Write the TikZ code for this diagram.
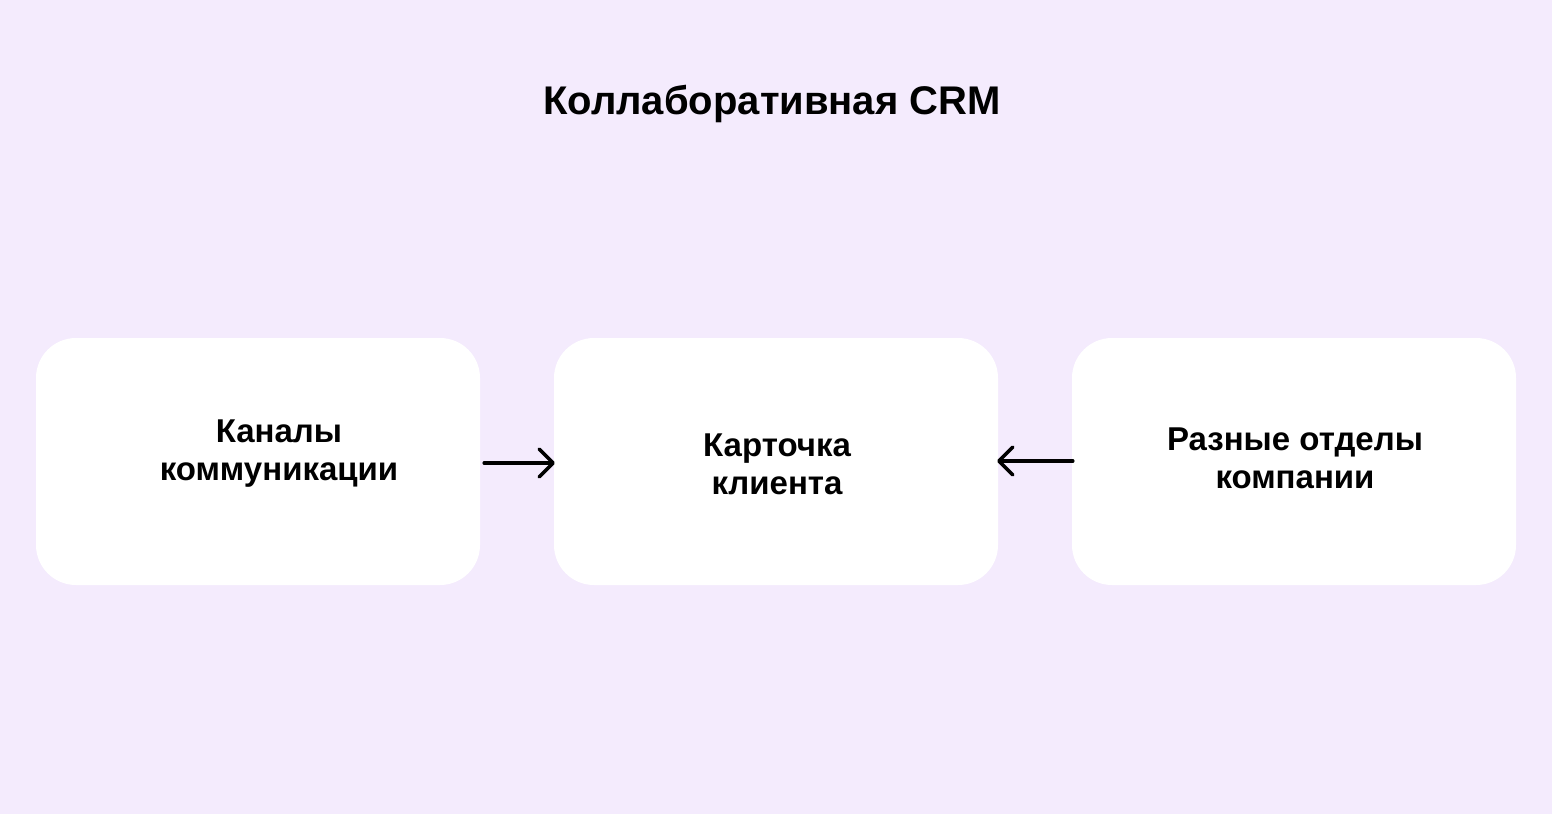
\documentclass[tikz,border=0pt]{standalone}
\usepackage{fontspec}
\setmainfont{Liberation Sans}
\usetikzlibrary{arrows.meta}
\definecolor{bg}{RGB}{244,235,253}
\tikzset{
  box/.style={fill=white, rounded corners=40pt, minimum width=444pt, minimum height=247pt, inner sep=0pt},
  lbl/.style={align=center, font=\bfseries\fontsize{33}{38}\selectfont, inner sep=0pt},
  arr/.style={line width=3.5pt, line cap=round, -{Straight Barb[length=14pt,width=28pt,line cap=round,line join=round]}}
}
\begin{document}
\begin{tikzpicture}[x=1pt,y=-1pt]
\fill[bg] (0,0) rectangle (1552,814);
\useasboundingbox (0,0) rectangle (1552,814);
\node[font=\bfseries\fontsize{40}{46}\selectfont, inner sep=0pt] (title) at (772,104) {Коллаборативная CRM};
\node[box] (b1) at (258,461.5) {};
\node[box] (b2) at (776,461.5) {};
\node[box] (b3) at (1294,461.5) {};
\node[lbl] (t1) at (279,454) {Каналы\\коммуникации};
\node[lbl] (t2) at (777,464) {Карточка\\клиента};
\node[lbl] (t3) at (1295,458) {Разные отделы\\компании};
\draw[arr] ([xshift=4pt,yshift=-1.5pt]b1.east) -- ([xshift=1pt,yshift=-1.5pt]b2.west);
\draw[arr] ([xshift=1pt,yshift=0.5pt]b3.west) -- ([xshift=-1pt,yshift=0.5pt]b2.east);
\end{tikzpicture}
\end{document}
